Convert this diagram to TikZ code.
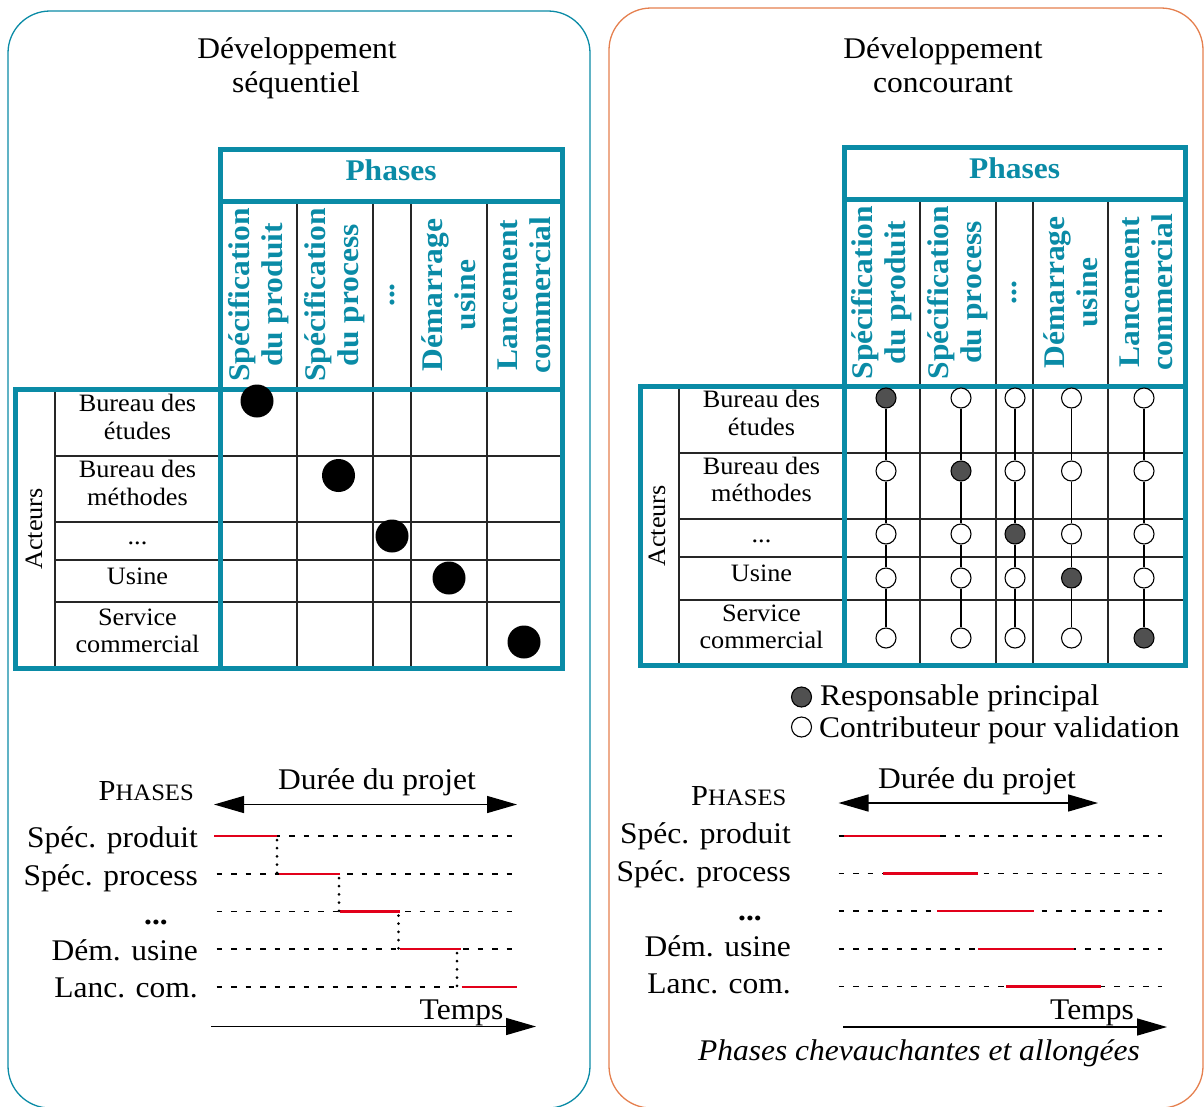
\documentclass[tikz,border=0pt]{standalone}
\usepackage{fontspec}
\setmainfont{Liberation Serif}[FakeStretch=1.05]
\usetikzlibrary{arrows.meta}
\definecolor{tealc}{HTML}{0A8BA6}
\definecolor{orangec}{HTML}{E5804F}
\definecolor{redc}{HTML}{E2001A}
\definecolor{greyc}{HTML}{505050}
\begin{document}
\begin{tikzpicture}[x=1pt,y=-1pt,
  tbl/.style={draw=tealc, line width=5pt},
  grid/.style={draw=black!85, line width=1.1pt},
  hdr/.style={rotate=90, align=center, text=tealc, font=\bfseries\fontsize{30}{33}\selectfont, inner sep=0pt},
  phs/.style={text=tealc, font=\bfseries\fontsize{30}{33}\selectfont, inner sep=0pt, anchor=base},
  rowlab/.style={align=center, font=\fontsize{25}{27.3}\selectfont, inner sep=0pt},
  bigtxt/.style={font=\fontsize{30}{34}\selectfont, inner sep=0pt},
  dotL/.style={circle, fill=black, minimum size=33pt, inner sep=0pt},
  cw/.style={circle, draw=black, line width=1.1pt, fill=white, minimum size=20pt, inner sep=0pt},
  cg/.style={cw, fill=greyc},
  conn/.style={draw=black, line width=1.1pt},
  dline/.style={draw=black, dash pattern=on 5.5pt off 9pt, line width=1.1pt},
  redl/.style={draw=redc, line width=2.6pt},
  vdot/.style={draw=black, line width=3pt, line cap=round, dash pattern=on 0pt off 8.2pt},
  arr/.style={draw=black, line width=1.4pt, -{Triangle[length=30pt,width=17pt]}},
  darr/.style={draw=black, line width=1.4pt, {Triangle[length=30pt,width=17pt]}-{Triangle[length=30pt,width=17pt]}}
]
\useasboundingbox (0,0) rectangle (1204,1106);

% ---------- panels ----------
\draw[tealc, line width=1.3pt, rounded corners=42pt] (8,11) rectangle (590,1108);
\draw[orangec, line width=1.3pt, rounded corners=42pt] (609,8) rectangle (1203,1108);

% ---------- titles ----------
\node[bigtxt, anchor=base] (tl1) at (297,58) {Développement};
\node[bigtxt, anchor=base] (tl2) at (296,92) {séquentiel};
\node[bigtxt, anchor=base] (tr1) at (943,58) {Développement};
\node[bigtxt, anchor=base] (tr2) at (943,92) {concourant};

% ---------- left table ----------
\foreach \x in {297,373,411,487} \draw[grid] (\x,201) -- (\x,668);
\foreach \y in {456,522,560,602} \draw[grid] (55,\y) -- (562,\y);
\draw[grid] (55,389) -- (55,668);
\draw[tbl] (220,149) rectangle (562,201);
\draw[tbl] (220,149) -- (220,668);
\draw[tbl] (562,201) -- (562,389);
\draw[tbl] (15,389) rectangle (562,668);

\node[phs] (phL) at (391,180) {Phases};
\node[hdr] (hL1) at (258.5,295) {Spécification\\du produit};
\node[hdr] (hL2) at (335,295) {Spécification\\du process};
\node[hdr] (hL3) at (392,295) {...};
\node[hdr] (hL4) at (449,295) {Démarrage\\usine};
\node[hdr] (hL5) at (524.5,295) {Lancement\\commercial};

\node[rowlab, rotate=90] (acL) at (34,529) {Acteurs};
\node[rowlab] (rL1) at (137.5,417) {Bureau des\\études};
\node[rowlab] (rL2) at (137.5,483) {Bureau des\\méthodes};
\node[rowlab, anchor=base] (rL3) at (137.5,544.5) {...};
\node[rowlab] (rL4) at (137.5,576.5) {Usine};
\node[rowlab] (rL5) at (137.5,631) {Service\\commercial};

\node[dotL] (dL1) at (257,401) {};
\node[dotL] (dL2) at (338.5,475.5) {};
\node[dotL] (dL3) at (392,536) {};
\node[dotL] (dL4) at (449,578) {};
\node[dotL] (dL5) at (524,642) {};

% ---------- right table ----------
\foreach \x in {920,996,1033,1108} \draw[grid] (\x,199) -- (\x,665);
\foreach \y in {453,519,557,600} \draw[grid] (679,\y) -- (1185,\y);
\draw[grid] (679,386) -- (679,665);
\draw[tbl] (844,147) rectangle (1185,199);
\draw[tbl] (844,147) -- (844,665);
\draw[tbl] (1185,199) -- (1185,386);
\draw[tbl] (640,386) rectangle (1185,665);

\node[phs] (phR) at (1014.5,178) {Phases};
\node[hdr] (hR1) at (882,292.5) {Spécification\\du produit};
\node[hdr] (hR2) at (958,292.5) {Spécification\\du process};
\node[hdr] (hR3) at (1014.5,292.5) {...};
\node[hdr] (hR4) at (1070.5,292.5) {Démarrage\\usine};
\node[hdr] (hR5) at (1146.5,292.5) {Lancement\\commercial};

\node[rowlab, rotate=90] (acR) at (657,526) {Acteurs};
\node[rowlab] (rR1) at (761.5,413) {Bureau des\\études};
\node[rowlab] (rR2) at (761.5,479.5) {Bureau des\\méthodes};
\node[rowlab, anchor=base] (rR3) at (761.5,542) {...};
\node[rowlab] (rR4) at (761.5,573) {Usine};
\node[rowlab] (rR5) at (761.5,626.5) {Service\\commercial};

\foreach \cx [count=\i] in {886,961,1015,1071.5,1144} {
  \foreach \cy [count=\j] in {398,471,534,578,638} {
    \ifnum\i=\j
      \node[cg] (c\i\j) at (\cx,\cy) {};
    \else
      \node[cw] (c\i\j) at (\cx,\cy) {};
    \fi
  }
}
\foreach \i in {1,...,5} {
  \foreach \j/\k in {1/2,2/3,3/4,4/5} \draw[conn] (c\i\j) -- (c\i\k);
}

% legend
\node[cg] (lg1) at (801.5,697) {};
\node[cw] (lg2) at (801.5,727) {};
\node[bigtxt, anchor=base west] (lt1) at (820,705) {Responsable principal};
\node[bigtxt, anchor=base west] (lt2) at (819,737) {Contributeur pour validation};

% ---------- left gantt ----------
\node[anchor=base east, inner sep=0pt] (phgL) at (194,800) {\fontsize{29}{29}\selectfont P\fontsize{23.5}{23.5}\selectfont HASES};
\node[bigtxt, anchor=base] (duL) at (377,789) {Durée du projet};
\coordinate (daL) at (214,804.5);
\coordinate (dbL) at (517,804.5);
\draw[darr] (daL) -- (dbL);

\node[bigtxt, anchor=base east] (gL1) at (198,847) {Spéc. produit};
\node[bigtxt, anchor=base east] (gL2) at (198,885) {Spéc. process};
\node[bigtxt, anchor=base east] (gL3) at (168,924) {\bfseries ...};
\node[bigtxt, anchor=base east] (gL4) at (198,960) {Dém. usine};
\node[bigtxt, anchor=base east] (gL5) at (198,997) {Lanc. com.};

\foreach \y in {836,874,911.5,949,987} \draw[dline] (216.5,\y) -- (511.5,\y);
\draw[redl] (214,836) -- (277,836);
\draw[redl] (279,874) -- (340,874);
\draw[redl] (340,911.5) -- (400,911.5);
\draw[redl] (400,949) -- (461,949);
\draw[redl] (461.5,987) -- (517,987);
\draw[vdot] (277,840) -- (277,874);
\draw[vdot] (339,878) -- (339,911.5);
\draw[vdot] (398.5,915.5) -- (398.5,949);
\draw[vdot] (457,953) -- (457,987);

\node[bigtxt, anchor=base] (tpL) at (461.5,1019) {Temps};
\coordinate (taL) at (211,1026.5);
\coordinate (tbL) at (536,1026.5);
\draw[arr] (taL) -- (tbL);

% ---------- right gantt ----------
\node[anchor=base east, inner sep=0pt] (phgR) at (786.5,805) {\fontsize{29}{29}\selectfont P\fontsize{23.5}{23.5}\selectfont HASES};
\node[bigtxt, anchor=base] (duR) at (977,788) {Durée du projet};
\coordinate (daR) at (838.5,803);
\coordinate (dbR) at (1098,803);
\draw[darr] (daR) -- (dbR);

\node[bigtxt, anchor=base east] (gR1) at (791,843.5) {Spéc. produit};
\node[bigtxt, anchor=base east] (gR2) at (791,881) {Spéc. process};
\node[bigtxt, anchor=base east] (gR3) at (762,920) {\bfseries ...};
\node[bigtxt, anchor=base east] (gR4) at (791,956) {Dém. usine};
\node[bigtxt, anchor=base east] (gR5) at (791,993) {Lanc. com.};

\foreach \y in {836,873.5,911,949,986.7} \draw[dline] (838.5,\y) -- (1162,\y);
\draw[redl] (844,836) -- (940,836);
\draw[redl] (882.5,873.5) -- (977.5,873.5);
\draw[redl] (937,911) -- (1034,911);
\draw[redl] (978,949) -- (1074,949);
\draw[redl] (1006,986.7) -- (1101,986.7);

\node[bigtxt, anchor=base] (tpR) at (1092,1019) {Temps};
\coordinate (taR) at (843,1027);
\coordinate (tbR) at (1167,1027);
\draw[arr] (taR) -- (tbR);

\node[bigtxt, anchor=base] (itR) at (919,1060) {\itshape Phases chevauchantes et allongées};
\end{tikzpicture}
\end{document}
